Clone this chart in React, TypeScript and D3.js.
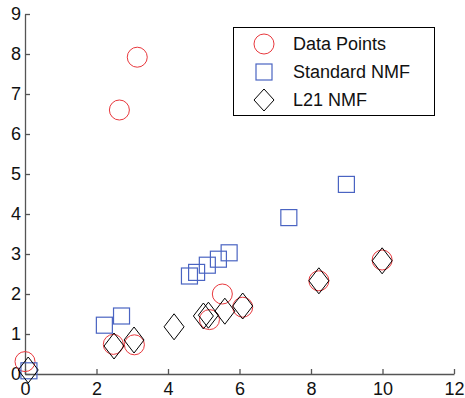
import React, { useEffect, useRef } from 'react';
import * as d3 from 'd3';

// values
const dataX = [0, 2.64, 3.14, 2.47, 3.06, 5.16, 5.52, 6.09, 8.22, 9.99];
const dataY = [0.31, 6.6, 7.92, 0.74, 0.73, 1.36, 2.0, 1.67, 2.33, 2.85];

const stdX = [0.11, 2.22, 2.7, 4.6, 4.8, 5.1, 5.41, 5.71, 7.38, 8.99];
const stdY = [0.08, 1.22, 1.45, 2.45, 2.54, 2.72, 2.87, 3.03, 3.91, 4.74];

const l21X = [0.09, 2.49, 3.05, 4.17, 4.99, 5.13, 5.59, 6.09, 8.22, 9.99];
const l21Y = [0.1, 0.7, 0.85, 1.18, 1.45, 1.47, 1.57, 1.7, 2.33, 2.83];

const xTicks = [0, 2, 4, 6, 8, 10, 12];
const yTicks = [0, 1, 2, 3, 4, 5, 6, 7, 8, 9];
const legendLabels = ['Data Points', 'Standard NMF', 'L21 NMF'];

const RED = '#e8383d';
const BLUE = '#4a64c2';
const FONT = '"Liberation Sans", Arial, sans-serif';

const diamondPath = (w: number, h: number) =>
  `M0,${-h / 2}L${w / 2},0L0,${h / 2}L${-w / 2},0Z`;

const App: React.FC = () => {
  const ref = useRef<SVGSVGElement>(null);

  useEffect(() => {
    if (!ref.current) return;
    const svg = d3.select(ref.current);
    svg.selectAll('*').remove();

    const x = d3.scaleLinear().domain([0, 12]).range([25, 454]);
    const y = d3.scaleLinear().domain([0, 9]).range([374, 14]);

    // axes (MATLAB style, ticks inward)
    const axisColor = '#555';
    const xAxis = svg
      .append('g')
      .attr('transform', `translate(0,${y(0)})`)
      .call(d3.axisBottom(x).tickValues(xTicks).tickSizeInner(-5).tickSizeOuter(0).tickPadding(8));
    const yAxis = svg
      .append('g')
      .attr('transform', `translate(${x(0)},0)`)
      .call(d3.axisLeft(y).tickValues(yTicks).tickSizeInner(-5).tickSizeOuter(0).tickPadding(4));

    [xAxis, yAxis].forEach((g) => {
      g.select('.domain').attr('stroke', axisColor).attr('stroke-width', 1.3);
      g.selectAll('.tick line').attr('stroke', axisColor).attr('stroke-width', 1.3);
      g.selectAll('.tick text')
        .attr('fill', '#111')
        .style('font-family', FONT)
        .style('font-size', '18px');
    });

    // Data Points
    svg
      .append('g')
      .selectAll('circle')
      .data(dataX.map((v, i) => [v, dataY[i]]))
      .enter()
      .append('circle')
      .attr('cx', (d) => x(d[0]))
      .attr('cy', (d) => y(d[1]))
      .attr('r', 10)
      .attr('fill', 'none')
      .attr('stroke', RED)
      .attr('stroke-width', 1);

    // Standard NMF
    svg
      .append('g')
      .selectAll('rect')
      .data(stdX.map((v, i) => [v, stdY[i]]))
      .enter()
      .append('rect')
      .attr('x', (d) => x(d[0]) - 8)
      .attr('y', (d) => y(d[1]) - 8)
      .attr('width', 16)
      .attr('height', 16)
      .attr('fill', 'none')
      .attr('stroke', BLUE)
      .attr('stroke-width', 1.2);

    // L21 NMF
    svg
      .append('g')
      .selectAll('path')
      .data(l21X.map((v, i) => [v, l21Y[i]]))
      .enter()
      .append('path')
      .attr('transform', (d) => `translate(${x(d[0])},${y(d[1])})`)
      .attr('d', diamondPath(20, 26))
      .attr('fill', 'none')
      .attr('stroke', '#000')
      .attr('stroke-width', 1);

    // legend
    const lg = svg.append('g');
    lg.append('rect')
      .attr('x', 233.5)
      .attr('y', 27.5)
      .attr('width', 201)
      .attr('height', 88)
      .attr('fill', '#fff')
      .attr('stroke', '#000')
      .attr('stroke-width', 1);

    const rowY = [44, 72, 100];
    lg.append('circle')
      .attr('cx', 264)
      .attr('cy', rowY[0])
      .attr('r', 10)
      .attr('fill', 'none')
      .attr('stroke', RED);
    lg.append('rect')
      .attr('x', 256)
      .attr('y', rowY[1] - 8)
      .attr('width', 16)
      .attr('height', 16)
      .attr('fill', 'none')
      .attr('stroke', BLUE)
      .attr('stroke-width', 1.2);
    lg.append('path')
      .attr('transform', `translate(264,${rowY[2]})`)
      .attr('d', diamondPath(20, 22))
      .attr('fill', 'none')
      .attr('stroke', '#000');

    lg.selectAll('text')
      .data(legendLabels)
      .enter()
      .append('text')
      .attr('x', 293)
      .attr('y', (_d, i) => rowY[i])
      .attr('dy', '0.35em')
      .attr('fill', '#111')
      .style('font-family', FONT)
      .style('font-size', '18px')
      .text((d) => d);
  }, []);

  return (
    <svg
      ref={ref}
      width={465}
      height={398}
      style={{ position: 'absolute', left: 0, top: 0, background: '#fff' }}
    />
  );
};

export default App;
